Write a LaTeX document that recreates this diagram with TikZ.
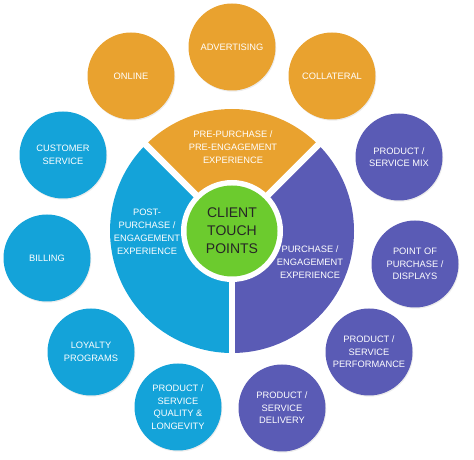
\documentclass[tikz,border=0pt]{standalone}
\usepackage{fontspec}
\setmainfont{Liberation Sans}
\usetikzlibrary{shadows}
\definecolor{tporange}{HTML}{E9A22F}
\definecolor{tpblue}{HTML}{14A3D9}
\definecolor{tppurple}{HTML}{5A5BB5}
\definecolor{tpgreen}{HTML}{6CCB2E}

\begin{document}
\begin{tikzpicture}[x=1pt,y=1pt,
  touch/.style={circle,minimum size=87pt,inner sep=0pt,text=white,align=center,
    font=\fontsize{9.3}{12.5}\selectfont,
    drop shadow={opacity=0.15,shadow xshift=0.8pt,shadow yshift=-1.2pt}},
  phase/.style={text=white,align=center,font=\fontsize{9.3}{13}\selectfont}]
  \useasboundingbox (0,0) rectangle (474,460);
  \coordinate (c) at (232,229);
  % the three phases
  \fill[tporange] (c) -- ++(45:122) arc (45:135:122) -- cycle;
  \fill[tpblue] (c) -- ++(135:122) arc (135:270:122) -- cycle;
  \fill[tppurple] (c) -- ++(270:122) arc (270:405:122) -- cycle;
  \foreach \a in {45,135,270}
    \draw[white,line width=6.5pt] (c) -- ++(\a:126);
  \fill[white] (c) circle (51);
  \node[circle,fill=tpgreen,minimum size=91pt,inner sep=0pt,align=center,text=black!85,
    font=\fontsize{14}{18}\selectfont] (hub) at (c) {CLIENT\\TOUCH\\POINTS};
  \node[phase] (pre) at (233,313) {PRE-PURCHASE /\\PRE-ENGAGEMENT\\EXPERIENCE};
  \node[phase] (post) at (147,228) {POST-\\PURCHASE /\\ENGAGEMENT\\EXPERIENCE};
  \node[phase] (buy) at (310,198) {PURCHASE /\\ENGAGEMENT\\EXPERIENCE};
  % touch points
  \node[touch,fill=tporange] (adv) at (232,413) {ADVERTISING};
  \node[touch,fill=tporange] (online) at (131,384) {ONLINE};
  \node[touch,fill=tporange] (coll) at (332,384) {COLLATERAL};
  \node[touch,fill=tpblue] (care) at (63,305) {CUSTOMER\\SERVICE};
  \node[touch,fill=tpblue] (bill) at (47,202) {BILLING};
  \node[touch,fill=tpblue] (loyal) at (91,108) {LOYALTY\\PROGRAMS};
  \node[touch,fill=tpblue] (quality) at (178,53) {PRODUCT /\\SERVICE\\QUALITY \&\\LONGEVITY};
  \node[touch,fill=tppurple] (deliv) at (282,52) {PRODUCT /\\SERVICE\\DELIVERY};
  \node[touch,fill=tppurple] (perf) at (369,108) {PRODUCT /\\SERVICE\\PERFORMANCE};
  \node[touch,fill=tppurple] (pop) at (415,196) {POINT OF\\PURCHASE /\\DISPLAYS};
  \node[touch,fill=tppurple] (mix) at (399,303) {PRODUCT /\\SERVICE MIX};
\end{tikzpicture}
\end{document}
